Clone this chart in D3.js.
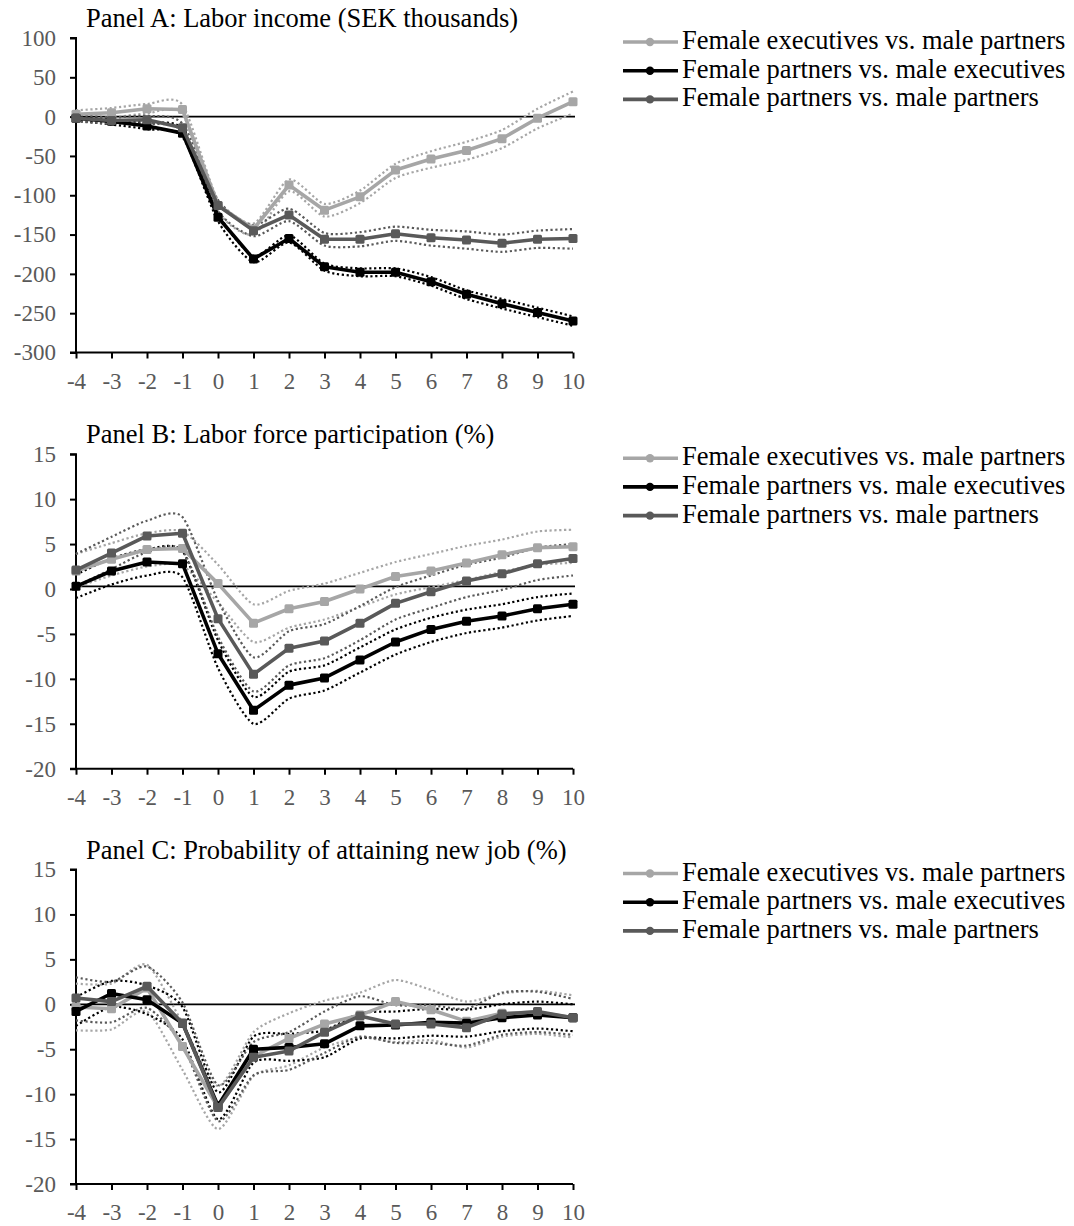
<!DOCTYPE html>
<html><head><meta charset="utf-8">
<script src="https://cdn.jsdelivr.net/npm/d3@7"></script>
<style>
html,body{margin:0;padding:0;background:#fff;}
svg text{font-family:"Liberation Serif","Times New Roman",serif !important;}
</style></head>
<body><svg id="c" width="1074" height="1226"></svg>
<script>
const years = [-4,-3,-2,-1,0,1,2,3,4,5,6,7,8,9,10];
const seriesNames = ["Female executives vs. male partners","Female partners vs. male executives","Female partners vs. male partners"];
const panelTitles = ["Panel A: Labor income (SEK thousands)","Panel B: Labor force participation (%)","Panel C: Probability of attaining new job (%)"];
const yTicksA = [100,50,0,-50,-100,-150,-200,-250,-300];
const yTicksB = [15,10,5,0,-5,-10,-15,-20];
const yTicksC = [15,10,5,0,-5,-10,-15,-20];
const refLines = [0, 0.3, 0];

// Panel A
const aExecP   = [3,5,10,9,-113,-143,-87,-119,-102,-68,-54,-43,-28,-2,19];
const aExecPLo = [-2,-1,4,3,-120,-150,-95,-127,-110,-78,-65,-55,-40,-15,4];
const aExecPHi = [8,11,16,15,-106,-136,-80,-111,-94,-60,-44,-32,-17,10,32];
const aPartE   = [-2,-6,-12,-21,-128,-181,-155,-191,-198,-198,-210,-226,-238,-249,-260];
const aPartELo = [-5,-10,-16,-26,-133,-185,-160,-196,-203,-203,-215,-232,-244,-255,-266];
const aPartEHi = [1,-3,-8,-16,-123,-177,-151,-187,-193,-193,-204,-221,-232,-243,-254];
const aPartP   = [-2,-5,-4,-14,-113,-145,-125,-156,-156,-149,-154,-157,-161,-156,-155];
const aPartPLo = [-6,-9,-9,-19,-120,-152,-133,-164,-165,-158,-164,-168,-172,-167,-168];
const aPartPHi = [2,-1,1,-9,-106,-138,-117,-148,-147,-140,-144,-146,-150,-145,-143];

// Panel B
const bExecP   = [2.0,3.3,4.4,4.5,0.6,-3.8,-2.2,-1.4,0.0,1.4,2.0,2.9,3.8,4.6,4.7];
const bExecPLo = [0.2,1.5,2.5,2.6,-1.5,-5.9,-4.3,-3.4,-2.0,-0.6,0.2,1.0,1.9,2.7,2.9];
const bExecPHi = [3.9,5.1,6.2,6.4,2.7,-1.7,-0.2,0.6,1.8,3.0,3.9,4.8,5.5,6.4,6.6];
const bPartE   = [0.3,2.0,3.0,2.8,-7.2,-13.5,-10.7,-9.9,-7.9,-5.9,-4.5,-3.6,-3.0,-2.2,-1.7];
const bPartELo = [-1.0,0.5,1.5,1.3,-8.8,-15.0,-12.2,-11.3,-9.3,-7.3,-5.9,-4.9,-4.3,-3.5,-3.0];
const bPartEHi = [1.6,3.4,4.4,4.2,-5.7,-12.0,-9.2,-8.5,-6.5,-4.5,-3.2,-2.3,-1.7,-0.9,-0.5];
const bPartP   = [2.1,4.0,5.9,6.2,-3.3,-9.5,-6.6,-5.8,-3.8,-1.6,-0.3,0.9,1.7,2.8,3.4];
const bPartPLo = [0.3,2.2,4.1,4.3,-5.3,-11.4,-8.5,-7.7,-5.7,-3.4,-2.1,-0.9,-0.1,1.0,1.5];
const bPartPHi = [3.9,5.8,7.6,8.0,-1.3,-7.6,-4.7,-3.9,-1.9,0.2,1.5,2.7,3.5,4.6,5.0];

// Panel C
const cExecP   = [-0.3,-0.5,1.8,-4.7,-11.5,-5.8,-3.8,-2.2,-1.2,0.3,-0.6,-1.9,-1.0,-0.9,-1.5];
const cExecPLo = [-2.9,-2.8,-0.8,-7.3,-13.9,-8.0,-6.8,-4.8,-3.7,-4.2,-4.0,-4.8,-3.6,-3.3,-3.7];
const cExecPHi = [2.3,2.3,4.4,-2.1,-9.1,-3.1,-1.0,0.4,1.3,2.7,1.6,0.3,1.2,1.5,1.0];
const cPartE   = [-0.8,1.2,0.5,-2.1,-11.3,-5.0,-4.8,-4.4,-2.4,-2.3,-2.0,-2.1,-1.5,-1.2,-1.5];
const cPartELo = [-2.4,-0.3,-1.1,-3.9,-12.8,-6.5,-6.3,-5.9,-3.8,-3.8,-3.5,-3.6,-3.0,-2.7,-3.0];
const cPartEHi = [0.8,2.6,2.1,-0.3,-9.8,-3.6,-3.3,-2.9,-1.0,-0.8,-0.5,-0.6,0.0,0.3,0.0];
const cPartP   = [0.7,0.3,2.0,-2.1,-11.5,-5.9,-5.2,-3.1,-1.3,-2.2,-2.2,-2.6,-1.1,-0.8,-1.5];
const cPartPLo = [-1.8,-2.0,-0.4,-4.5,-13.0,-7.9,-7.3,-5.4,-3.6,-4.3,-4.3,-4.6,-3.4,-3.1,-3.4];
const cPartPHi = [3.0,2.5,4.2,0.2,-9.0,-4.2,-3.1,-0.8,0.9,-0.1,-0.1,-0.5,1.3,1.4,0.6];

const colors = ["#a6a6a6","#000000","#595959"];
const FONT = '"Liberation Serif","Times New Roman",serif';

const panels = [
  {title: panelTitles[0], ticks: yTicksA, ref: refLines[0],
   series: [[aExecP,aExecPLo,aExecPHi],[aPartE,aPartELo,aPartEHi],[aPartP,aPartPLo,aPartPHi]]},
  {title: panelTitles[1], ticks: yTicksB, ref: refLines[1],
   series: [[bExecP,bExecPLo,bExecPHi],[bPartE,bPartELo,bPartEHi],[bPartP,bPartPLo,bPartPHi]]},
  {title: panelTitles[2], ticks: yTicksC, ref: refLines[2],
   series: [[cExecP,cExecPLo,cExecPHi],[cPartE,cPartELo,cPartEHi],[cPartP,cPartPLo,cPartPHi]]}
];

const svg = d3.select("#c");
const left = 76, right = 573, plotH = 314.5;
const tops = [38, 454.2, 869.5];

panels.forEach((p, pi) => {
  const top = tops[pi];
  const g = svg.append("g");
  const x = d3.scaleLinear().domain([d3.min(years), d3.max(years)]).range([left, right]);
  const y = d3.scaleLinear().domain([d3.min(p.ticks), d3.max(p.ticks)]).range([top + plotH, top]);

  // title
  g.append("text").attr("x", 86).attr("y", top - 11).style("font-family", FONT)
    .attr("font-size", 26.5).attr("fill", "#000").text(p.title);

  // axes
  const ya = g.append("g").attr("transform", `translate(${left},0)`)
    .call(d3.axisLeft(y).tickValues(p.ticks).tickSize(6).tickPadding(14));
  const xa = g.append("g").attr("transform", `translate(0,${top + plotH})`)
    .call(d3.axisBottom(x).tickValues(years).tickSize(6).tickPadding(14));
  [ya, xa].forEach(a => {
    a.attr("font-family", null).attr("font-size", null);
    a.select(".domain").attr("stroke", "#000").attr("stroke-width", 2);
    a.selectAll(".tick line").attr("stroke", "#000").attr("stroke-width", 2);
    a.selectAll(".tick text").attr("fill", "#595959")
      .style("font-family", FONT).style("font-size", "23px")
      .text(d => d < 0 ? "-" + Math.abs(d) : String(d));
  });
  ya.select(".domain").attr("d", `M-6,${y(d3.max(p.ticks))}H0V${y(d3.min(p.ticks))}H-6`);
  xa.select(".domain").attr("d", `M${left},0H${right}`);

  // reference line
  g.append("line").attr("x1", left).attr("x2", right + 2)
    .attr("y1", y(p.ref)).attr("y2", y(p.ref)).attr("stroke", "#000").attr("stroke-width", 1.8);

  const ciLine = d3.line().x((d, i) => x(years[i])).y(d => y(d)).curve(d3.curveCardinal.tension(0.3));
  const mainLine = d3.line().x((d, i) => x(years[i])).y(d => y(d));

  // CIs
  p.series.forEach((s, si) => {
    [s[1], s[2]].forEach(arr => {
      g.append("path").attr("d", ciLine(arr)).attr("fill", "none")
        .attr("stroke", colors[si]).attr("stroke-width", 2.2)
        .attr("stroke-dasharray", "2.2 2.6");
    });
  });
  // main lines
  p.series.forEach((s, si) => {
    g.append("path").attr("d", mainLine(s[0])).attr("fill", "none")
      .attr("stroke", colors[si]).attr("stroke-width", 3.6).attr("stroke-linejoin", "round");
    g.selectAll(null).data(s[0]).enter().append("rect")
      .attr("x", (d, i) => x(years[i]) - 4.5).attr("y", d => y(d) - 4.5)
      .attr("width", 9).attr("height", 9).attr("rx", 1.5).attr("fill", colors[si]);
  });

  // legend
  const lg = g.append("g");
  seriesNames.forEach((n, si) => {
    const ly = top + 4 + si * 28.7;
    lg.append("line").attr("x1", 623).attr("x2", 678).attr("y1", ly).attr("y2", ly)
      .attr("stroke", colors[si]).attr("stroke-width", 3.6);
    lg.append("circle").attr("cx", 650).attr("cy", ly).attr("r", 4.2).attr("fill", colors[si]);
    lg.append("text").attr("x", 682).attr("y", ly + 7).style("font-family", FONT)
      .attr("font-size", 26.5).attr("fill", "#000").text(n);
  });
});
</script></body></html>
